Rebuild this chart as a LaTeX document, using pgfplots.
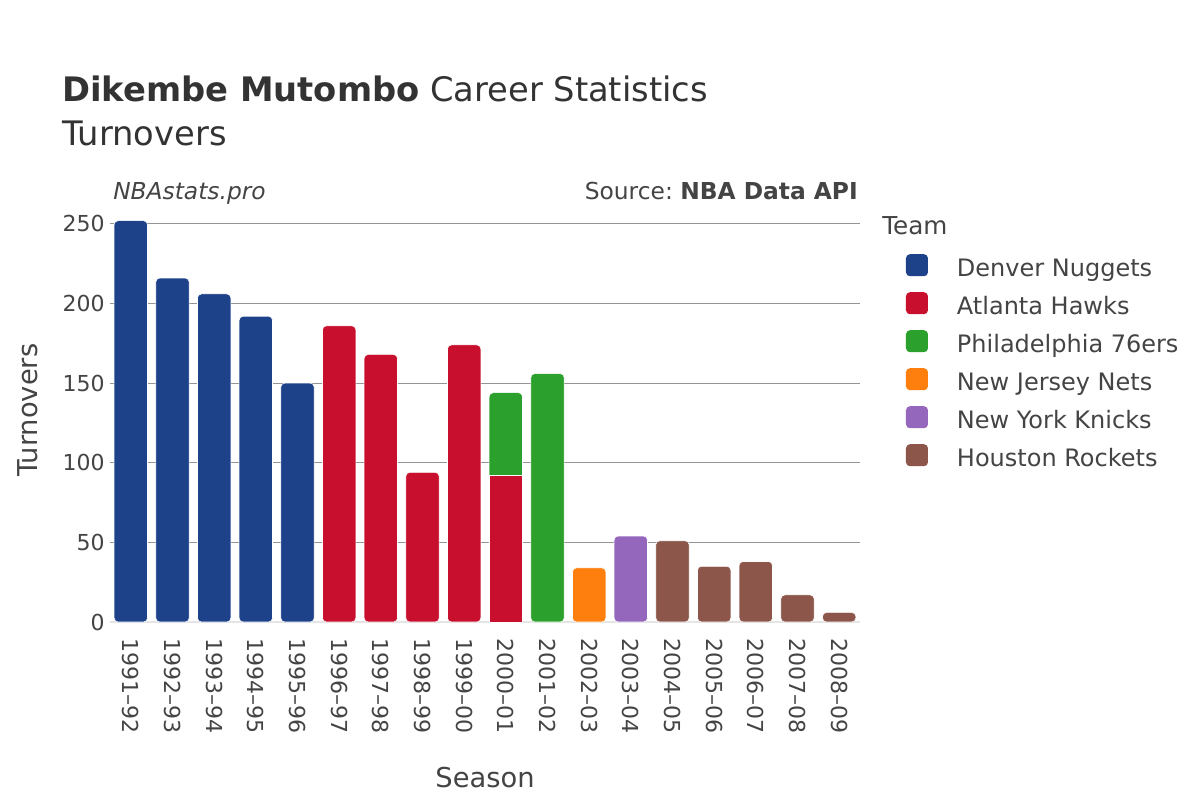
\documentclass[border=0pt]{standalone}
\usepackage{fontspec}
\setmainfont{DejaVu Sans}
\usepackage{pgfplots}
\pgfplotsset{compat=1.18}
\definecolor{txt}{HTML}{444444}
\definecolor{ttl}{HTML}{333333}
\definecolor{den}{HTML}{1D428A}
\definecolor{atl}{HTML}{C8102E}
\definecolor{phi}{HTML}{2CA02C}
\definecolor{njn}{HTML}{FF7F0E}
\definecolor{nyk}{HTML}{9467BD}
\definecolor{hou}{HTML}{8C564B}

\begin{document}
\begin{tikzpicture}
% page frame, 1200x800 px at 0.75pt per px
\path[use as bounding box, fill=white] (0,0) rectangle (900pt,600pt);

\node[anchor=base west, text=ttl, font=\fontsize{25.3}{30}\selectfont, inner sep=0pt]
  at (46.5pt,523.5pt) {\bfseries Dikembe Mutombo\mdseries\ Career Statistics};
\node[anchor=base west, text=ttl, font=\fontsize{25.3}{30}\selectfont, inner sep=0pt]
  at (46.5pt,490.5pt) {Turnovers};
\node[anchor=base west, text=txt, font=\fontsize{17.5}{20}\selectfont\itshape, inner sep=0pt]
  at (84.75pt,450pt) {NBAstats.pro};
\node[anchor=base east, text=txt, font=\fontsize{17.5}{20}\selectfont, inner sep=0pt]
  at (643.5pt,450pt) {Source:~\textbf{NBA Data API}};
\node[anchor=base west, text=txt, font=\fontsize{18.5}{22}\selectfont, inner sep=0pt]
  at (661.5pt,423.75pt) {Team};

\begin{axis}[
  at={(82.5pt,133.5pt)}, anchor=south west, scale only axis,
  width=562.5pt, height=316.5pt,
  xmin=-0.5, xmax=17.5, ymin=0, ymax=265,
  ybar, bar width=0.8, bar shift=0pt,
  axis line style={draw=none}, major tick length=0pt,
  xtick={0,...,17},
  xticklabels={1991–92,1992–93,1993–94,1994–95,1995–96,1996–97,1997–98,1998–99,1999–00,
    2000–01,2001–02,2002–03,2003–04,2004–05,2005–06,2006–07,2007–08,2008–09},
  ytick={50,100,150,200,250},
  extra y ticks={0},
  extra y tick style={grid style={color=black!10, line width=1.5pt}},
  ymajorgrids, grid style={color=black!42, line width=0.75pt},
  /pgf/number format/assume math mode=true,
  tick label style={font=\fontsize{16.5}{18}\selectfont, text=txt},
  xticklabel style={rotate=-90, anchor=west, inner xsep=12pt, inner ysep=0pt},
  yticklabel style={anchor=east, inner xsep=0pt, xshift=-3.75pt},
  xlabel={Season}, ylabel={Turnovers},
  label style={font=\fontsize{20.5}{24}\selectfont, text=txt},
  xlabel style={at={(axis description cs:0.5,-0.393)}, anchor=base},
  ylabel style={at={(axis description cs:-0.1093,0.502)}, anchor=center},
  legend cell align=left,
  legend style={at={(axis description cs:1.0613,0.8715)}, anchor=north west,
    draw=none, fill=none, inner sep=0pt, outer sep=0pt,
    font=\fontsize{18}{20}\selectfont, text=txt, row sep=7.5pt,
    nodes={inner sep=0pt, text height=14pt, text depth=4pt},
    /tikz/every odd column/.append style={column sep=21.75pt}},
  legend image code/.code={\fill[#1, draw=none, rounded corners=3pt] (0pt,-4.5pt) rectangle (16.5pt,12pt);},
]
\addplot[fill=den, draw=white, line width=0.4pt, rounded corners=3pt]
  coordinates {(0,252) (1,216) (2,206) (3,192) (4,150)};
\addlegendentry{Denver Nuggets}
\addplot[fill=atl, draw=white, line width=0.4pt, rounded corners=3pt]
  coordinates {(5,186) (6,168) (7,94) (8,174)};
\addlegendentry{Atlanta Hawks}
\addplot[fill=phi, draw=white, line width=0.4pt, rounded corners=3pt]
  coordinates {(9,144) (10,156)};
\addlegendentry{Philadelphia 76ers}
\addplot[fill=njn, draw=white, line width=0.4pt, rounded corners=3pt]
  coordinates {(11,34)};
\addlegendentry{New Jersey Nets}
\addplot[fill=nyk, draw=white, line width=0.4pt, rounded corners=3pt]
  coordinates {(12,54)};
\addlegendentry{New York Knicks}
\addplot[fill=hou, draw=white, line width=0.4pt, rounded corners=3pt]
  coordinates {(13,51) (14,35) (15,38) (16,17) (17,6)};
\addlegendentry{Houston Rockets}
% Atlanta's share of 2000-01, in front of the 76ers part
\addplot[fill=atl, draw=white, line width=0.6pt, forget plot]
  coordinates {(9,92)};
\end{axis}
\end{tikzpicture}
\end{document}
